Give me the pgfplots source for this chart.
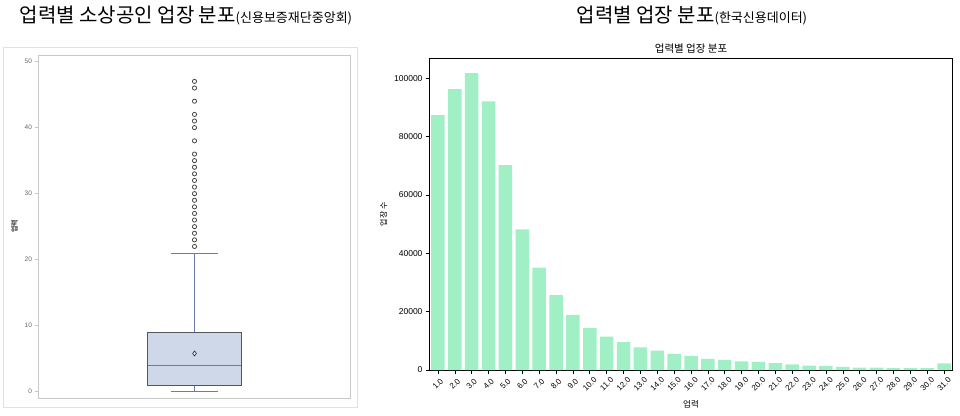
\documentclass[border=0pt]{standalone}
\usepackage{fontspec}
\setmainfont{Liberation Sans}
\newfontfamily\kr{Noto Sans CJK KR}
\usepackage{pgfplots}
\usepackage{pgfplotstable}
\usepgfplotslibrary{statistics}
\pgfplotsset{compat=1.18}

\definecolor{barfill}{RGB}{161,240,197}
\definecolor{boxfill}{RGB}{206,216,232}
\definecolor{boxedge}{RGB}{85,85,90}
\definecolor{whisk}{RGB}{105,125,168}
\definecolor{outl}{RGB}{70,70,70}
\definecolor{lframe}{RGB}{200,200,200}
\definecolor{oframe}{RGB}{225,225,225}

% 업력별 업장 수 (한국신용데이터), x = 업력-1
\pgfplotstableread{
x y
0 87400
1 96300
2 101800
3 92100
4 70250
5 48200
6 35100
7 25700
8 18900
9 14400
10 11450
11 9600
12 7800
13 6640
14 5500
15 4800
16 3780
17 3440
18 2990
19 2750
20 2400
21 1950
22 1500
23 1400
24 1030
25 800
26 850
27 650
28 650
29 650
30 2250
}\tenure

\begin{document}
\begin{tikzpicture}
\useasboundingbox (0,0) rectangle (960pt,415pt);

% titles
\node[anchor=base] at (186pt,392pt)
  {{\kr\fontsize{20}{24}\selectfont 업력별 소상공인 업장 분포}{\kr\fontsize{13}{15}\selectfont (신용보증재단중앙회)}};
\node[anchor=base] at (692pt,392pt)
  {{\kr\fontsize{20}{24}\selectfont 업력별 업장 분포}{\kr\fontsize{13}{15}\selectfont (한국신용데이터)}};

% left: outer frame of the screenshot
\draw[oframe, line width=0.8pt] (3pt,8pt) rectangle (357pt,368pt);

\begin{axis}[
  at={(38.5pt,17pt)}, anchor=south west, scale only axis,
  width=312pt, height=343pt,
  xmin=0, xmax=1, ymin=-0.95, ymax=51,
  xtick=\empty,
  ytick={0,10,...,50},
  ytick pos=left, tick align=outside, major tick length=3pt,
  tick style={lframe, line width=0.5pt},
  axis line style={lframe, line width=0.9pt},
  yticklabel style={font=\fontsize{6.5}{7}\selectfont, text=black!60},
  /pgf/number format/assume math mode=true,
  ylabel={\kr 업력},
  ylabel style={font=\fontsize{7}{8}\selectfont\bfseries, text=black!70},
]
\addplot[
  boxplot/draw direction=y,
  boxplot prepared={draw position=0.5,
    lower whisker=0, lower quartile=1, median=4,
    upper quartile=9, upper whisker=21, average=5.8,
    box extend=0.3, whisker extend=0.148},
  boxplot/every box/.style={draw=boxedge, fill=boxfill, line width=0.8pt},
  boxplot/every whisker/.style={draw=whisk, line width=0.9pt},
  boxplot/every median/.style={draw=whisk, line width=1pt},
  boxplot/every average/.style={/tikz/mark=diamond, /tikz/mark size=2.6pt, draw=whisk, fill=none, line width=0.8pt},
  mark=o, mark size=2.1pt, mark options={draw=outl, line width=0.8pt},
] table[row sep=\\, y index=0] {
22\\23\\24\\25\\26\\27\\28\\29\\30\\31\\32\\33\\34\\35\\36\\38\\40\\41\\42\\44\\46\\47\\
};
\end{axis}

% right: bar chart
\begin{axis}[
  at={(429.5pt,45pt)}, anchor=south west, scale only axis,
  width=523pt, height=311.7pt,
  xmin=-0.5, xmax=30.5, ymin=0, ymax=106900,
  ybar, bar width=0.8,
  xtick={0,...,30},
  xticklabels={1.0,2.0,3.0,4.0,5.0,6.0,7.0,8.0,9.0,10.0,11.0,12.0,13.0,14.0,15.0,16.0,17.0,18.0,19.0,20.0,21.0,22.0,23.0,24.0,25.0,26.0,27.0,28.0,29.0,30.0,31.0},
  ytick={0,20000,40000,60000,80000,100000},
  scaled y ticks=false,
  yticklabel style={/pgf/number format/fixed, /pgf/number format/1000 sep={}},
  /pgf/number format/assume math mode=true,
  xtick pos=left, ytick pos=left,
  tick align=outside, major tick length=3.5pt,
  tick style={black, line width=0.6pt},
  axis line style={black, line width=0.8pt},
  tick label style={font=\fontsize{8.5}{9}\selectfont},
  xticklabel style={yshift=-10.5pt, rotate=45, anchor=center, font=\fontsize{8}{9}\selectfont, inner sep=0pt},
  title={\kr 업력별 업장 분포},
  title style={font=\fontsize{10.5}{12}\selectfont, yshift=-5pt},
  xlabel={\kr 업력},
  xlabel style={font=\fontsize{8.5}{10}\selectfont, yshift=-5pt},
  ylabel={\kr 업장 수},
  ylabel style={font=\fontsize{8}{9}\selectfont},
]
\addplot[fill=barfill, draw=none] table[x=x, y=y] {\tenure};
\end{axis}
\end{tikzpicture}
\end{document}
